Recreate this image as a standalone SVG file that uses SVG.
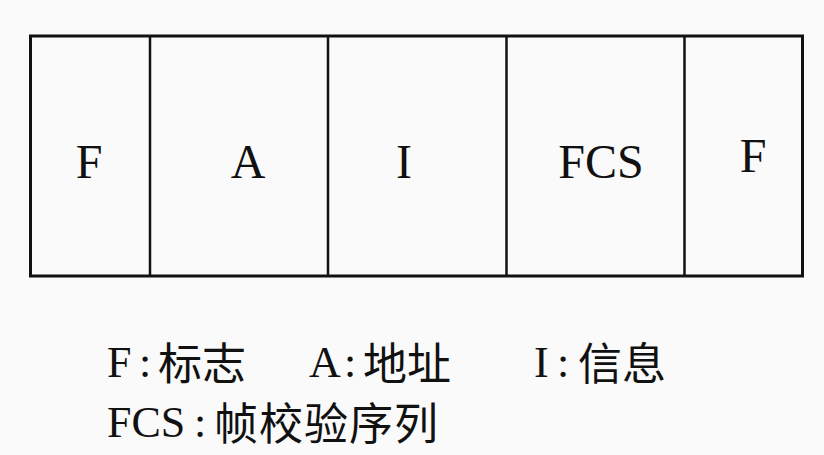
<svg xmlns="http://www.w3.org/2000/svg" width="824" height="455" viewBox="0 0 824 455">
<style>
.frame{fill:none;stroke:#111;stroke-width:3}
.div{stroke:#111;stroke-width:2.5}
.lbl{font-family:"Liberation Serif","Times New Roman",serif;font-size:48px;fill:#111;text-anchor:middle}
.lat{font-family:"Liberation Serif","Times New Roman",serif;font-size:44px;fill:#111}
.col{font-family:"Liberation Serif","Times New Roman",serif;font-size:44px;fill:#111;text-anchor:middle}
.cjk{font-family:"Noto Sans CJK SC","Noto Sans",sans-serif;font-size:44px;fill:#111}
</style>
<rect width="824" height="455" fill="#fafafa"/>
<g id="frame">
<rect class="frame" x="30.5" y="36" width="772" height="240"/>
</g>
<g id="connectors">
<line class="div" x1="150" y1="36" x2="150" y2="276"/>
<line class="div" x1="328" y1="36" x2="328" y2="276"/>
<line class="div" x1="506.5" y1="36" x2="506.5" y2="276"/>
<line class="div" x1="684.5" y1="36" x2="684.5" y2="276"/>
</g>
<g id="field-F1"><text class="lbl" x="89" y="178">F</text></g>
<g id="field-A"><text class="lbl" x="248" y="178">A</text></g>
<g id="field-I"><text class="lbl" x="404" y="178">I</text></g>
<g id="field-FCS"><text class="lbl" x="601" y="178">FCS</text></g>
<g id="field-F2"><text class="lbl" x="753" y="172">F</text></g>
<g id="legend">
<text class="lat" x="107" y="377">F</text><text class="col" x="145" y="377">:</text><text class="cjk" x="158" y="380">标志</text>
<text class="lat" x="309" y="377">A</text><text class="col" x="350" y="377">:</text><text class="cjk" x="363" y="380">地址</text>
<text class="lat" x="534" y="377">I</text><text class="col" x="563" y="377">:</text><text class="cjk" x="578" y="380">信息</text>
<text class="lat" x="107" y="437">FCS</text><text class="col" x="200" y="437">:</text><text class="cjk" x="214" y="440" letter-spacing="1">帧校验序列</text>
</g>
</svg>
